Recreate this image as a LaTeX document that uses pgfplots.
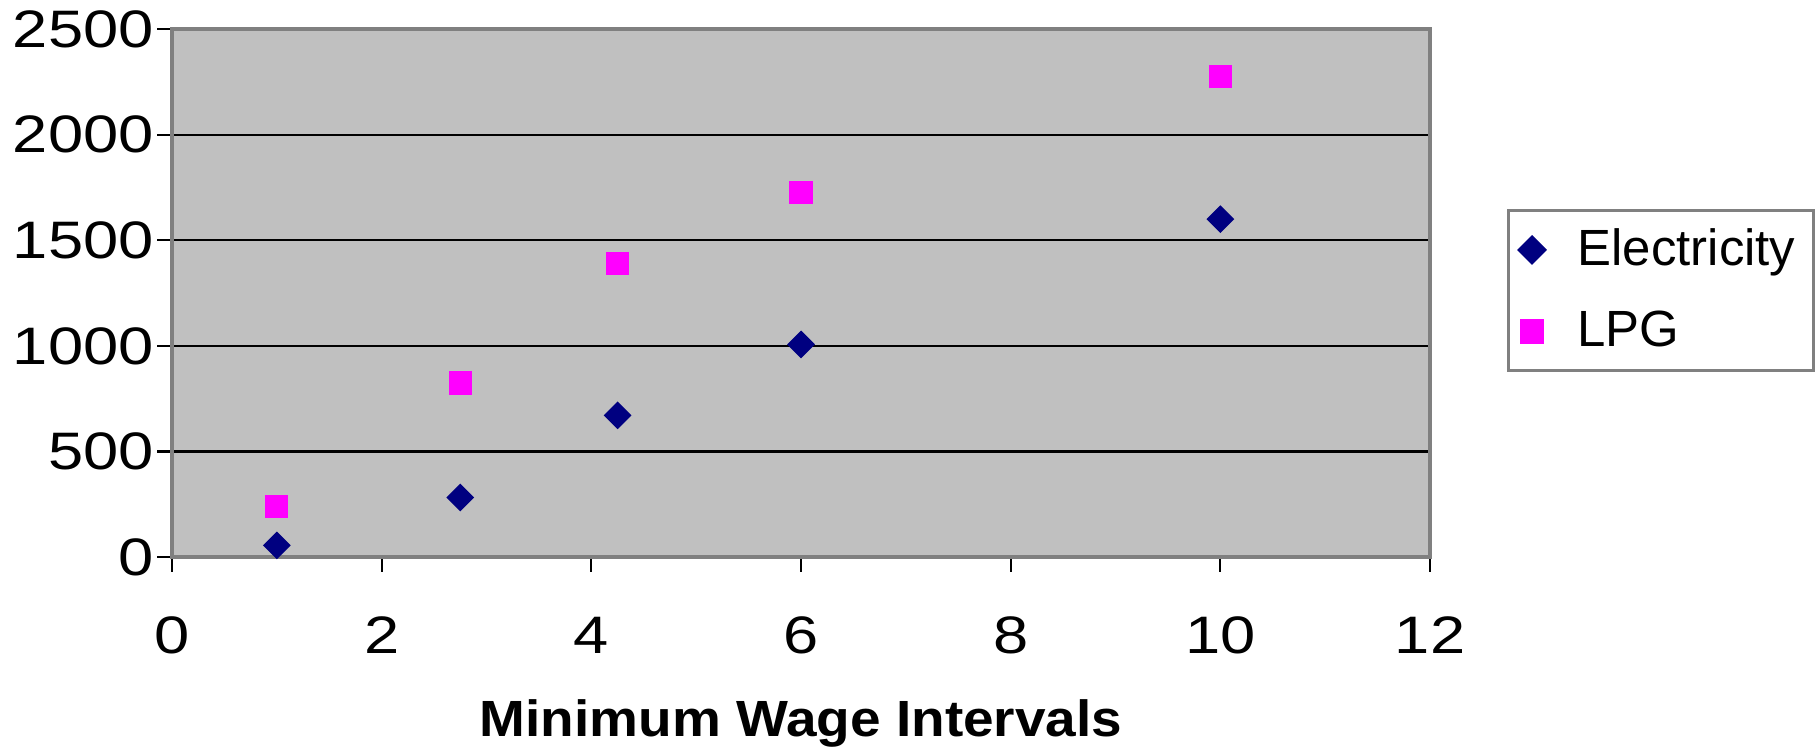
\documentclass[border=0pt]{standalone}
\usepackage{pgfplots}
\pgfplotsset{compat=1.18}
\usepackage{fontspec}
\setmainfont{Liberation Sans}
\newfontfamily\tickfont{Liberation Sans}[FakeStretch=1.2]
\newfontfamily\labelfont{Liberation Sans}[FakeStretch=1.08]
\definecolor{plotbg}{HTML}{C0C0C0}
\definecolor{elec}{HTML}{000080}
\definecolor{lpg}{HTML}{FF00FF}
\definecolor{frame}{HTML}{808080}

\begin{document}
\begin{tikzpicture}
\useasboundingbox (-47.3pt,-53.4pt) rectangle (452.7pt,153.2pt);
\begin{axis}[
    at={(0,0)}, anchor=south west,
    scale only axis,
    width=346pt, height=145.2pt,
    xmin=0, xmax=12, ymin=0, ymax=2500,
    xtick={0,2,...,12},
    ytick={0,500,...,2500},
    ymajorgrids,
    grid style={black, line width=0.6pt},
    axis background/.style={fill=plotbg},
    axis line style={frame, line width=1.2pt},
    tick style={black, line width=0.6pt},
    tick align=outside,
    tick pos=left,
    major tick length=4pt,
    /pgf/number format/assume math mode=true,
    /pgf/number format/1000 sep={},
    ticklabel style={font=\tickfont\fontsize{14.5}{16}\selectfont},
    xticklabel style={yshift=-9pt},
    yticklabel style={xshift=2.5pt},
    xlabel={Minimum Wage Intervals},
    xlabel style={font=\labelfont\bfseries\fontsize{14}{16}\selectfont, yshift=-5.5pt},
    legend style={at={(1.061,0.659)}, anchor=north west,
        draw=frame, line width=0.8pt,
        font=\fontsize{14}{16}\selectfont,
        row sep=7pt, inner xsep=3pt, inner ysep=3pt,
        /tikz/every odd column/.append style={column sep=7pt}},
    legend cell align=left,
]
\addplot[only marks, mark=square*, mark size=2.5pt,
    mark options={rotate=45, fill=elec, draw=elec}, color=elec]
    coordinates {(1,55) (2.75,282) (4.25,671) (6,1007) (10,1600)};
\addlegendentry{Electricity}
\addplot[only marks, mark=square*, mark size=3pt,
    mark options={fill=lpg, draw=lpg}, color=lpg]
    coordinates {(1,238) (2.75,824) (4.25,1389) (6,1726) (10,2275)};
\addlegendentry{LPG}
\end{axis}
\end{tikzpicture}
\end{document}
